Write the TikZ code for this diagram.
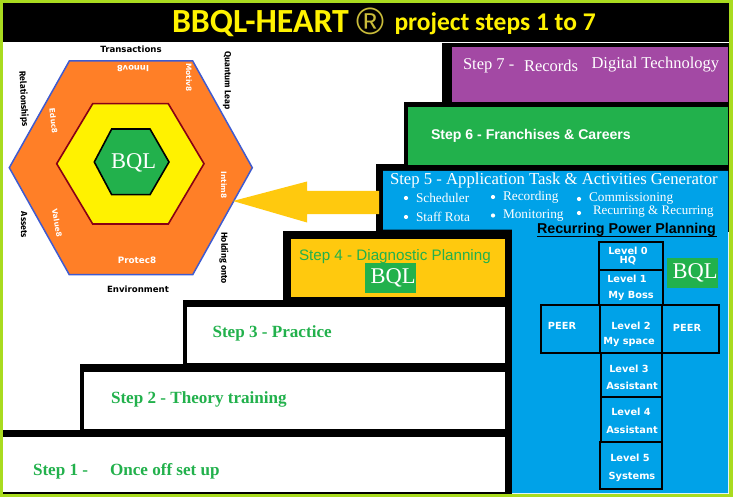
\documentclass[tikz,border=0pt]{standalone}
\usepackage{fontspec}
\setmainfont{Liberation Serif}
\newfontfamily\arialf{Liberation Sans}
\newfontfamily\calibrif{Carlito}
\newfontfamily\comicf{DejaVu Sans}
\newfontfamily\narrowf{Fira Sans}
\definecolor{lime}{HTML}{A9DB1F}
\definecolor{hgreen}{HTML}{22B14C}
\definecolor{horange}{HTML}{FF7F27}
\definecolor{hyellow}{HTML}{FFF200}
\definecolor{hblue}{HTML}{00A2E8}
\definecolor{hpurple}{HTML}{A349A4}
\definecolor{hgold}{HTML}{FFC90E}
\definecolor{hedge}{HTML}{3F5BD0}
\definecolor{hred}{HTML}{880015}
\definecolor{rmark}{HTML}{C9BC3A}
\tikzset{
  x=1pt,y=-1pt,
  txt/.style={inner sep=0pt,outer sep=0pt,anchor=west},
  mid/.style={inner sep=0pt,outer sep=0pt,anchor=center},
  steptxt/.style={txt,text=hgreen,font=\fontsize{17.1}{18}\selectfont\bfseries},
  sevtxt/.style={txt,text=white,font=\fontsize{16.5}{17}\selectfont},
  fivetxt/.style={txt,text=white,font=\fontsize{13.3}{14}\selectfont},
  bull/.style={circle,fill=white,inner sep=0pt,minimum size=4.2pt},
  bqlbox/.style={fill=hgreen,minimum width=51pt,minimum height=30pt,inner sep=0pt,text=white,font=\fontsize{22.5}{24}\selectfont},
  hexlbl/.style={mid,text=black,font=\comicf\bfseries\fontsize{8.6}{9}\selectfont},
  hexrot/.style={mid,text=black,font=\narrowf\bfseries\fontsize{8.8}{9}\selectfont},
  hexwht/.style={mid,text=white,font=\comicf\bfseries\fontsize{7.4}{9}\selectfont},
  lvl/.style={mid,text=white,font=\comicf\bfseries\fontsize{9.8}{11}\selectfont},
  cell/.style={draw=black,line width=2pt},
}
\begin{document}
\begin{tikzpicture}
\useasboundingbox (0,0) rectangle (733,497);
% frame
\fill[lime] (0,0) rectangle (733,497);
\fill[white] (2.5,3) rectangle (729,494);
% title band
\fill[black] (2.5,3) rectangle (729,42);
\node[txt,text=hyellow,font=\calibrif\bfseries\fontsize{33.8}{35}\selectfont] (title) at (172,24) {BBQL-HEART};
\node[mid,text=rmark,font=\arialf\fontsize{38}{39}\selectfont] (reg) at (370,21) {®};
\node[txt,text=hyellow,font=\calibrif\bfseries\fontsize{25.5}{27}\selectfont] (titleb) at (394.5,23.5) {project steps 1 to 7};
% stair blacks
\fill[black] (442,43) rectangle (729,102);
\fill[black] (404,102) rectangle (729,171);
\fill[black] (376,164) rectangle (729,232);
\fill[black] (283,231) rectangle (512,300);
\fill[black] (183,300) rectangle (512,364);
\fill[black] (80,364) rectangle (512,430);
\fill[black] (2.5,430) rectangle (512,494);
% stair fills
\fill[hpurple] (451.5,47.5) rectangle (728,102);
\fill[hgreen] (408,107) rectangle (728,165);
\fill[hblue] (383,171) -- (728,171) -- (728,493) -- (512,493) -- (512,229.5) -- (383,229.5) -- cycle;
\fill[hgold] (291,239) rectangle (504.5,297);
\fill[white] (187,307) rectangle (505,363);
\fill[white] (84,372) rectangle (505,428.5);
\fill[white] (2.5,437) rectangle (505,492);
% step texts
\node[sevtxt] (s7a) at (463,66) {Step 7 -};
\node[sevtxt] (s7b) at (524,66) {Records};
\node[sevtxt] (s7c) at (591.5,65) {Digital Technology};
\node[txt,text=white,font=\arialf\bfseries\fontsize{14.1}{15}\selectfont] (s6) at (431,135.5) {Step 6 - Franchises \& Careers};
\node[txt,text=white,font=\fontsize{16.7}{18}\selectfont] (s5) at (390,180) {Step 5 - Application Task \& Activities Generator};
\node[bull] (b1) at (406,198) {};
\node[fivetxt] (t1) at (416,198) {Scheduler};
\node[bull] (b2) at (406,217) {};
\node[fivetxt] (t2) at (416,217) {Staff Rota};
\node[bull] (b3) at (493,197) {};
\node[fivetxt] (t3) at (503,197) {Recording};
\node[bull] (b4) at (493,215.5) {};
\node[fivetxt] (t4) at (503,216) {Monitoring};
\node[bull] (b5) at (579,199) {};
\node[fivetxt] (t5) at (589,199) {Commissioning};
\node[bull] (b6) at (579,213) {};
\node[fivetxt,font=\fontsize{13}{14}\selectfont] (t6) at (593,212) {Recurring \& Recurring};
\node[txt,text=black,font=\arialf\bfseries\fontsize{14.3}{15}\selectfont] (rpp) at (537,229.5) {Recurring Power Planning};
\draw[black,line width=1.2pt] (537,236.8) -- (717,236.8);
\node[txt,text=hgreen,font=\arialf\fontsize{15.2}{16}\selectfont] (s4) at (299,257) {Step 4 - Diagnostic Planning};
\node[bqlbox] (bqla) at (390.5,278) {\hspace*{5pt}BQL};
\node[steptxt] (s3) at (212.5,333) {Step 3 - Practice};
\node[steptxt] (s2) at (111,399) {Step 2 - Theory training};
\node[steptxt] (s1a) at (33,472) {Step 1 -};
\node[steptxt] (s1b) at (110,471) {Once off set up};
% level grid
\draw[cell] (598.5,242) rectangle (663,270);
\draw[cell] (598.5,270) rectangle (663,305);
\draw[cell] (541,305) rectangle (718.5,353);
\draw[cell] (600,305) -- (600,353);
\draw[cell] (662,305) -- (662,353);
\draw[cell] (600.5,353) rectangle (662,397);
\draw[cell] (600.5,397) rectangle (662,442);
\draw[cell] (600,442) rectangle (662,489);
\node[lvl] (l0a) at (628,251) {Level 0};
\node[lvl] (l0b) at (628,261) {HQ};
\node[lvl] (l1a) at (627,279) {Level 1};
\node[lvl] (l1b) at (631,296) {My Boss};
\node[lvl] (pl) at (562,326) {PEER};
\node[lvl] (l2a) at (631,326) {Level 2};
\node[lvl] (l2b) at (629,342) {My space};
\node[lvl] (pr) at (687,328) {PEER};
\node[lvl] (l3a) at (629,369) {Level 3};
\node[lvl] (l3b) at (632,386) {Assistant};
\node[lvl] (l4a) at (631,412) {Level 4};
\node[lvl] (l4b) at (632,430) {Assistant};
\node[lvl] (l5a) at (630,458) {Level 5};
\node[lvl] (l5b) at (632,477) {Systems};
\node[bqlbox] (bqlb) at (692.5,272.5) {\hspace*{5pt}BQL};
% hexagons
\draw[fill=horange,draw=hedge,line width=1.5pt,line join=miter] (69.3,61) -- (192.7,61) -- (252.3,167.7) -- (192.7,274.7) -- (69.3,274.7) -- (9.3,167.7) -- cycle;
\draw[fill=hyellow,draw=hred,line width=1.6pt] (92.7,103.7) -- (168.3,103.7) -- (204,163.7) -- (168.3,224) -- (92.7,224) -- (56.7,163.7) -- cycle;
\draw[fill=hgreen,draw=black,line width=1.6pt] (111.7,129) -- (150,129) -- (169,162) -- (150,194.7) -- (111.7,194.7) -- (94.3,162) -- cycle;
\node[mid,text=white,font=\fontsize{22.5}{24}\selectfont] (bqlc) at (133.5,162.5) {BQL};
% hexagon labels
\node[hexlbl] (h1) at (131,49) {Transactions};
\node[hexrot,rotate=-90] (h2) at (227,80.5) {Quantum Leap};
\node[hexrot,rotate=-87] (h3) at (23.5,99) {Relationships};
\node[hexrot,rotate=-90] (h4) at (24,225) {Assets};
\node[hexrot,rotate=-90] (h5) at (224,258) {Holding onto};
\node[hexlbl] (h6) at (138,289) {Environment};
\node[hexwht,font=\comicf\bfseries\fontsize{8.4}{9}\selectfont,rotate=180] (w1) at (133,69) {Innov8};
\node[hexwht,rotate=-90] (w2) at (189,77.5) {Motiv8};
\node[hexwht,rotate=-84] (w3) at (53.5,121) {Educ8};
\node[hexwht,rotate=-90] (w4) at (224,185) {Intim8};
\node[hexwht,rotate=-80] (w5) at (57,223) {Value8};
\node[hexwht,font=\comicf\bfseries\fontsize{8.8}{9}\selectfont] (w6) at (137,260) {Protec8};
% arrow from step 5 to the hexagon
\coordinate (arrowto) at (233,201);
\fill[hgold] (arrowto) -- (307,181.5) -- (307,191) -- (379,191) -- (379,214) -- (307,214) -- (307,222.5) -- cycle;
\end{tikzpicture}
\end{document}
